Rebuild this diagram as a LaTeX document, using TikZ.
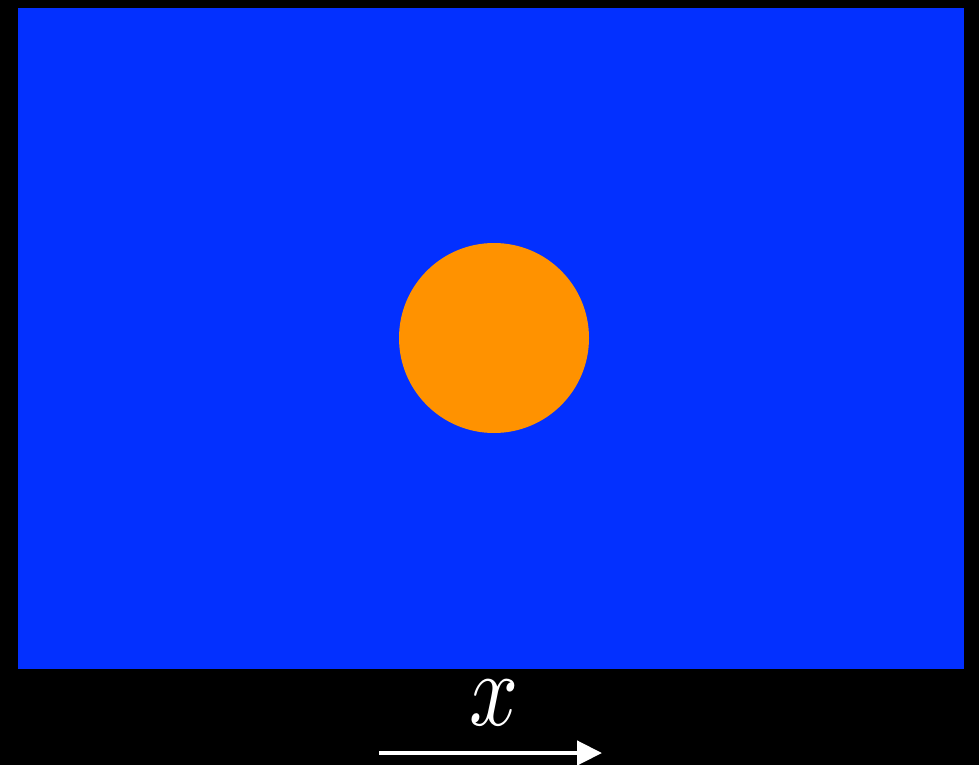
\documentclass[tikz,border=0pt]{standalone}
\usepackage{graphicx}
\usepackage{tikz}
\usetikzlibrary{arrows.meta, positioning, calc}
\usepackage{amsmath}

\begin{document}
\begin{tikzpicture}[
    x=1pt, y=-1pt,
    every node/.style={font=\normalsize},
    fieldbox/.style={fill=fieldblue, draw=none},
    particle/.style={circle, fill=dotorange, draw=none, inner sep=0pt, minimum size=190pt},
  ]
  \definecolor{fieldblue}{RGB}{3,48,255}
  \definecolor{dotorange}{RGB}{255,146,0}

  % black frame fixes the margins
  \fill[black] (0,0) rectangle (979,765);
  \useasboundingbox (0,0) rectangle (979,765);

  \fill[fieldbox] (18,8) rectangle (964,669);
  \node[particle] (ball) at (494,338) {};

  \node[text=white, inner sep=0pt] (xlabel) at (494,703) {\scalebox{8.6}[10.5]{$x$}};

  \coordinate (xstart) at (379,753);
  \coordinate (xend) at (602,753);
  \draw[-{Triangle[length=25pt, width=24pt]}, white, line width=4.5pt]
    (xstart) -- (xend);
\end{tikzpicture}
\end{document}
